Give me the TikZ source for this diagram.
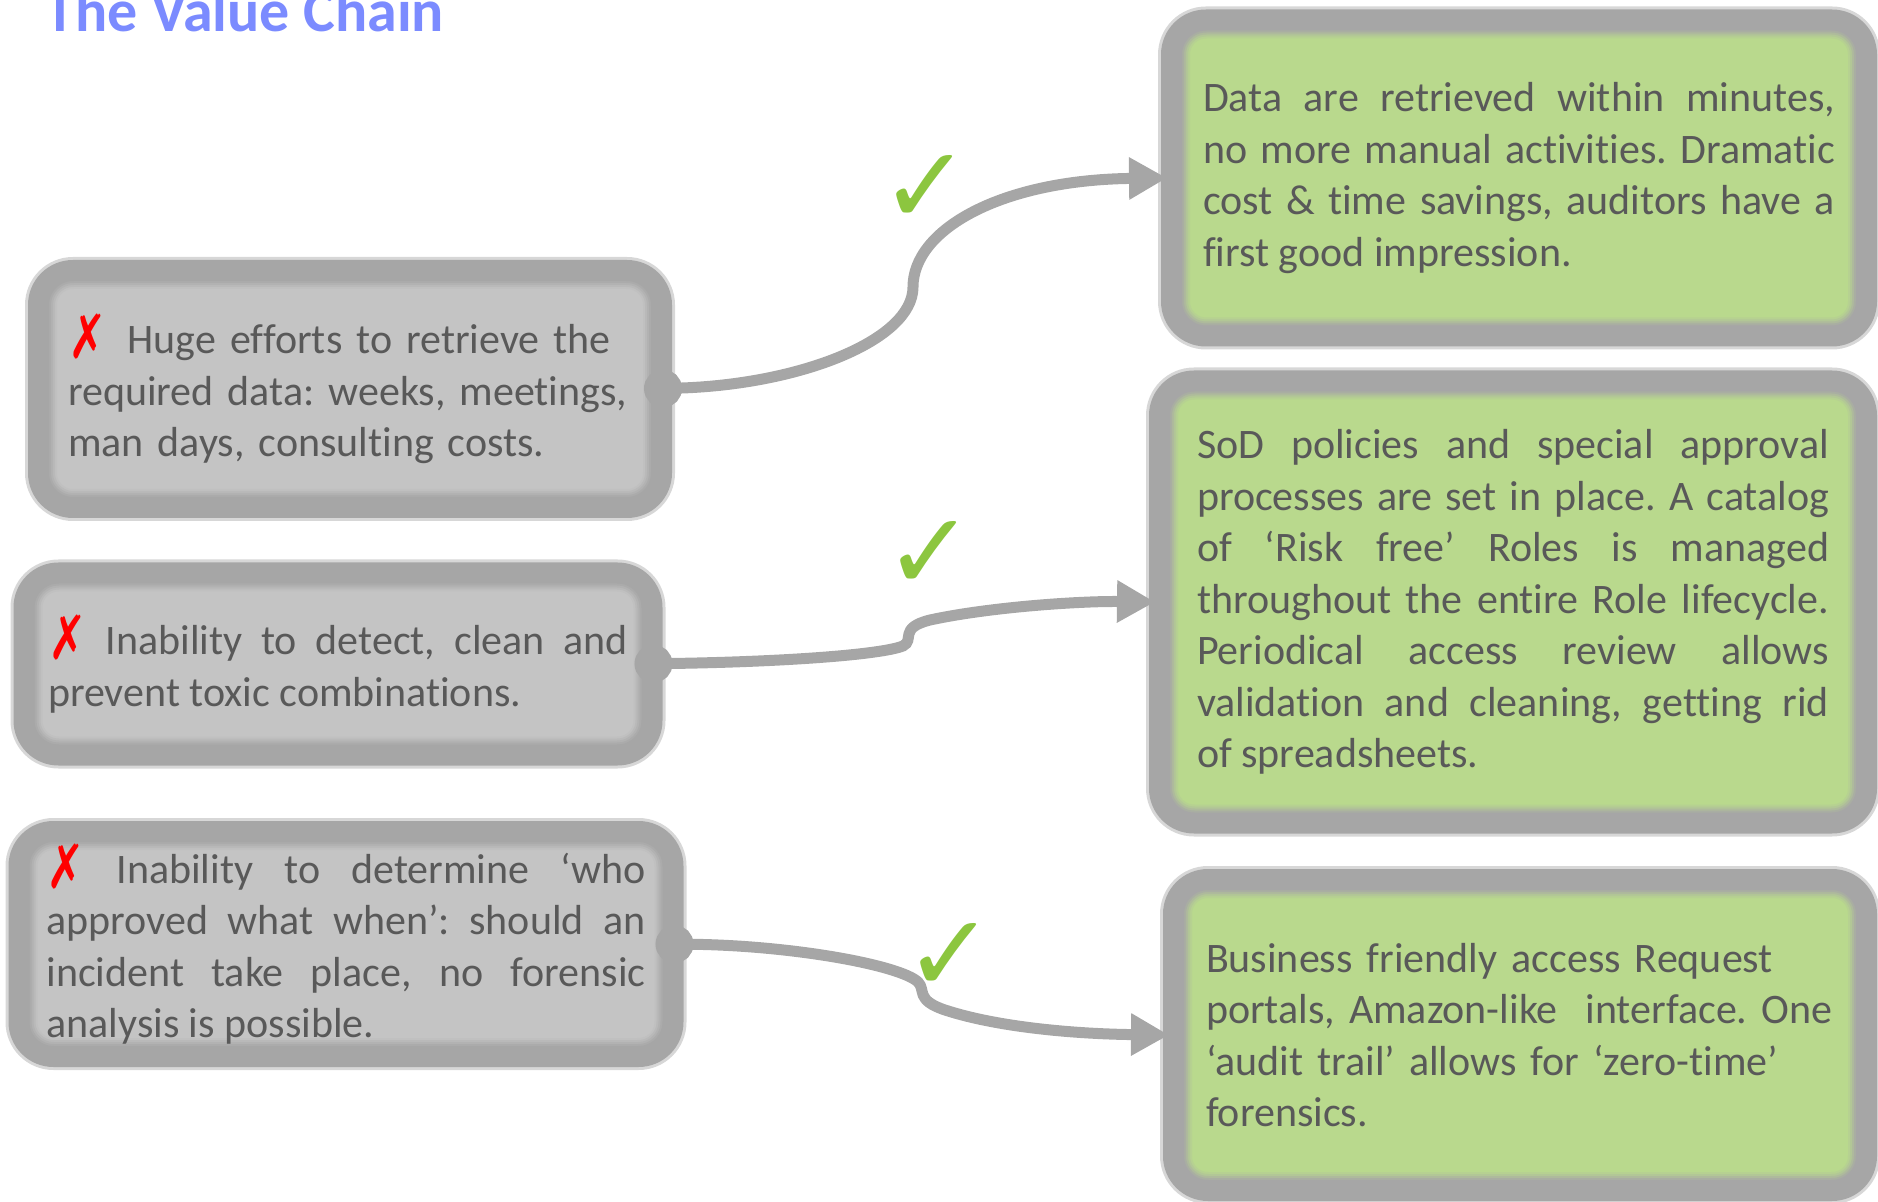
\documentclass[tikz,border=0pt]{standalone}
\usepackage{fontspec}
\setmainfont{Carlito}[Ligatures={TeX,NoCommon}]
\newfontfamily\symfont{DejaVu Sans}
\usetikzlibrary{arrows.meta}

\definecolor{framegray}{HTML}{A6A6A6}
\definecolor{badfill}{HTML}{C4C4C4}
\definecolor{goodfill}{HTML}{B9D98D}
\definecolor{textgray}{HTML}{595959}
\definecolor{tickgreen}{HTML}{8CC63F}
\definecolor{crossred}{HTML}{FF0000}
\definecolor{titleblue}{HTML}{7B8BFF}

\newcommand\badmark{\raisebox{-2.5pt}{\symfont\color{crossred}\scalebox{1.1}[1.45]{✗}}}
\newcommand\boxfont{\fontsize{21pt}{25.75pt}\selectfont\frenchspacing
  \tolerance=10000\hbadness=10000\hyphenpenalty=10000\exhyphenpenalty=10000}

\begin{document}
\begin{tikzpicture}[x=0.5pt,y=-0.5pt,
    box/.style={rounded corners=22pt, inner sep=0pt, text=textgray, font=\boxfont,
      draw=framegray, line width=1pt, fill=#1,
      preaction={draw=framegray!45, line width=4pt},
      path picture={
        \foreach \w/\c in {28/15,26/35,24/60,22/85,20/100}
          \draw[framegray!\c!#1, line width=\w pt, rounded corners=22pt]
            (path picture bounding box.north west) rectangle (path picture bounding box.south east);
      }},
    badbox/.style={box=badfill},
    goodbox/.style={box=goodfill},
    link/.style={draw=framegray, line width=5.5pt,
      {Circle[length=19pt]}-{Triangle[length=19pt,width=20pt]}},
    tick/.style={text=tickgreen, inner sep=0pt, font=\symfont\fontsize{54pt}{54pt}\selectfont},
    title/.style={text=titleblue, inner sep=0pt, font=\fontsize{30pt}{32pt}\selectfont\bfseries}]
    \useasboundingbox (0,0) rectangle (1878,1202);

    \node[title, anchor=base west] (title) at (45,32) {The Value Chain};

    \node[badbox, minimum width=321pt, minimum height=128pt, text width=282pt, align=left] (bad1) at (350,389)
      {\badmark\enspace Huge efforts to retrieve the\\ required data: weeks, meetings,\\ man days, consulting costs.};
    \node[badbox, minimum width=323.5pt, minimum height=100.5pt, text width=290pt, align=justify] (bad2) at (338,664)
      {\badmark\ Inability to detect, clean and\linebreak prevent toxic combinations.};
    \node[badbox, minimum width=336.5pt, minimum height=122pt, text width=299.5pt, align=justify] (bad3) at (346,944)
      {\badmark\ Inability to determine ‘who\linebreak approved what when’: should an\linebreak incident take place, no forensic\linebreak analysis is possible.};

    \node[goodbox, minimum width=357pt, minimum height=167.5pt, text width=316pt, align=justify] (good1) at (1519,178)
      {Data are retrieved within minutes,\linebreak no more manual activities. Dramatic\linebreak cost \& time savings, auditors have a\linebreak first good impression.};
    \node[goodbox, minimum width=363pt, minimum height=230.5pt, text width=316pt, align=justify] (good2) at (1513,602)
      {SoD policies and special approval\linebreak processes are set in place. A catalog\linebreak of ‘Risk free’ Roles is managed\linebreak throughout the entire Role lifecycle.\linebreak Periodical access review allows\linebreak validation and cleaning, getting rid\linebreak of spreadsheets.};
    \node[goodbox, minimum width=356pt, minimum height=165pt, text width=314pt, align=left] (good3) at (1520,1035)
      {Business friendly access Request\\ portals, Amazon-like\ \ interface. One\\ ‘audit trail’ allows for ‘zero-time’\\ forensics.};

    \draw[link] ([xshift=-14pt]bad1.east) .. controls (800,385) and (913,340) .. (913,287)
      .. controls (913,230) and (1000,180) .. ([xshift=3pt]good1.west);
    \draw[link] ([xshift=-14pt]bad2.east) .. controls (780,662) and (880,655) .. (903,646)
      .. controls (915,640) and (898,628) .. (930,620) .. controls (990,607) and (1080,601) .. ([xshift=3pt]good2.west);
    \draw[link] ([xshift=-14pt]bad3.east) .. controls (790,945) and (900,965) .. (918,982)
      .. controls (926,990) and (915,1000) .. (945,1010) .. controls (1000,1028) and (1080,1034) .. ([xshift=3pt]good3.west);

    \node[tick] (tick1) at (926,189) {✓};
    \node[tick] (tick2) at (930,555) {✓};
    \node[tick] (tick3) at (950,957) {✓};
\end{tikzpicture}
\end{document}
